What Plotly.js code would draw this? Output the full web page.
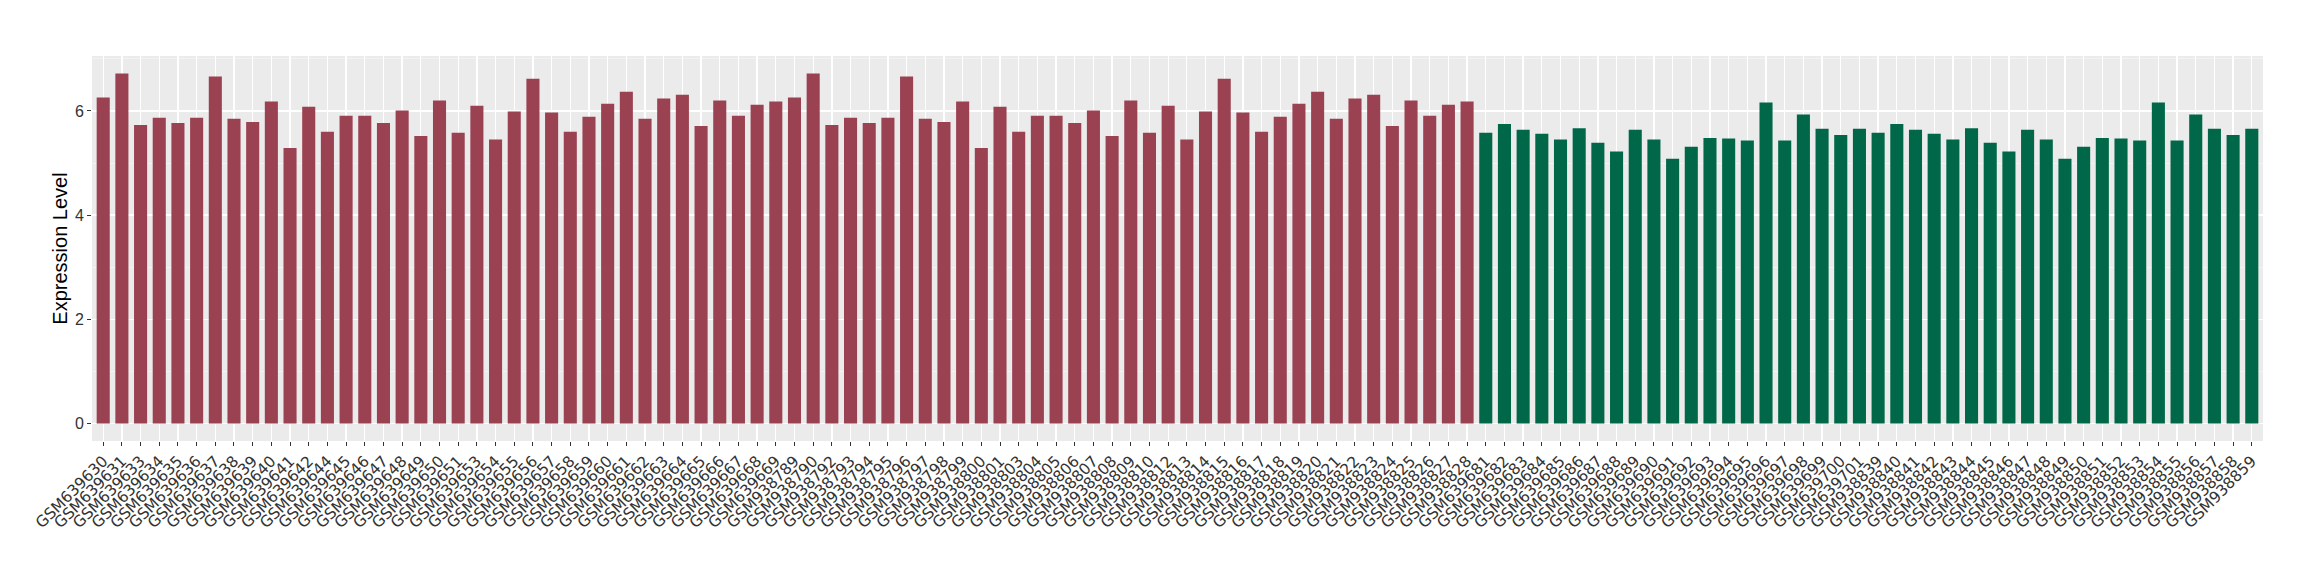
<!DOCTYPE html>
<html>
<head>
<meta charset="utf-8">
<script src="https://cdn.plot.ly/plotly-3.0.1.min.js"></script>
<style>html,body{margin:0;padding:0;background:#fff;}#chart{width:2320px;height:580px;}</style>
</head>
<body>
<div id="chart"></div>
<script>
const redSamples = [
  "GSM639630","GSM639631","GSM639633","GSM639634","GSM639635","GSM639636","GSM639637","GSM639638","GSM639639","GSM639640",
  "GSM639641","GSM639642","GSM639644","GSM639645","GSM639646","GSM639647","GSM639648","GSM639649","GSM639650","GSM639651",
  "GSM639653","GSM639654","GSM639655","GSM639656","GSM639657","GSM639658","GSM639659","GSM639660","GSM639661","GSM639662",
  "GSM639663","GSM639664","GSM639665","GSM639666","GSM639667","GSM639668","GSM639669",
  "GSM938789","GSM938790","GSM938792","GSM938793","GSM938794","GSM938795","GSM938796","GSM938797","GSM938798","GSM938799",
  "GSM938800","GSM938801","GSM938803","GSM938804","GSM938805","GSM938806","GSM938807","GSM938808","GSM938809","GSM938810",
  "GSM938812","GSM938813","GSM938814","GSM938815","GSM938816","GSM938817","GSM938818","GSM938819","GSM938820","GSM938821",
  "GSM938822","GSM938823","GSM938824","GSM938825","GSM938826","GSM938827","GSM938828"
];
const redValues = [
  6.26,6.72,5.73,5.87,5.77,5.87,6.66,5.85,5.79,6.18,
  5.29,6.08,5.60,5.91,5.91,5.77,6.01,5.52,6.20,5.58,
  6.10,5.45,5.99,6.62,5.97,5.60,5.89,6.14,6.37,5.85,
  6.24,6.31,5.71,6.20,5.91,6.12,6.18,
  6.26,6.72,5.73,5.87,5.77,5.87,6.66,5.85,5.79,6.18,
  5.29,6.08,5.60,5.91,5.91,5.77,6.01,5.52,6.20,5.58,
  6.10,5.45,5.99,6.62,5.97,5.60,5.89,6.14,6.37,5.85,
  6.24,6.31,5.71,6.20,5.91,6.12,6.18
];
const greenSamples = [
  "GSM639681","GSM639682","GSM639683","GSM639684","GSM639685","GSM639686","GSM639687","GSM639688","GSM639689","GSM639690",
  "GSM639691","GSM639692","GSM639693","GSM639694","GSM639695","GSM639696","GSM639697","GSM639698","GSM639699","GSM639700",
  "GSM639701",
  "GSM938839","GSM938840","GSM938841","GSM938842","GSM938843","GSM938844","GSM938845","GSM938846","GSM938847","GSM938848",
  "GSM938849","GSM938850","GSM938851","GSM938852","GSM938853","GSM938854","GSM938855","GSM938856","GSM938857","GSM938858",
  "GSM938859"
];
const greenValues = [
  5.58,5.75,5.64,5.56,5.45,5.67,5.39,5.22,5.64,5.45,
  5.08,5.31,5.48,5.47,5.43,6.16,5.43,5.93,5.66,5.54,
  5.66,
  5.58,5.75,5.64,5.56,5.45,5.67,5.39,5.22,5.64,5.45,
  5.08,5.31,5.48,5.47,5.43,6.16,5.43,5.93,5.66,5.54,
  5.66
];
const yTicks = [0, 2, 4, 6];
const yMinor = [1, 3, 5, 7];

const allSamples = redSamples.concat(greenSamples);
const n = allSamples.length;

const traces = [
  {type: "bar", x: redSamples, y: redValues, width: 0.7, marker: {color: "#9B4252"}, showlegend: false, hoverinfo: "x+y"},
  {type: "bar", x: greenSamples, y: greenValues, width: 0.7, marker: {color: "#006848"}, showlegend: false, hoverinfo: "x+y"}
];

const layout = {
  width: 2320, height: 580,
  margin: {l: 92, r: 57, t: 56, b: 139},
  paper_bgcolor: "#ffffff",
  plot_bgcolor: "#EBEBEB",
  barmode: "overlay",
  showlegend: false,
  xaxis: {
    type: "category",
    categoryorder: "array",
    categoryarray: allSamples,
    tickmode: "array",
    tickvals: allSamples,
    ticktext: allSamples,
    range: [-0.6, n - 1 + 0.6],
    showgrid: true, gridcolor: "#ffffff", gridwidth: 1.3,
    zeroline: false, showline: false,
    ticks: "outside", ticklen: 4, tickwidth: 1, tickcolor: "#333333",
    tickangle: -45,
    tickfont: {family: "DejaVu Sans", size: 15.5, color: "#333333"},
    automargin: false
  },
  yaxis: {
    range: [-0.338, 7.055],
    tickvals: yTicks,
    ticktext: yTicks.map(String),
    showgrid: true, gridcolor: "#ffffff", gridwidth: 1.3,
    minor: {tickvals: yMinor, showgrid: true, gridcolor: "#F6F6F6", gridwidth: 0.7, ticks: ""},
    zeroline: false, showline: false,
    ticks: "outside", ticklen: 4, tickwidth: 1, tickcolor: "#333333",
    tickfont: {family: "Liberation Sans, Arial, sans-serif", size: 16, color: "#333333"},
    title: {text: "Expression Level", font: {family: "Liberation Sans, Arial, sans-serif", size: 20, color: "#000000"}, standoff: 1},
    automargin: false
  }
};

Plotly.newPlot("chart", traces, layout, {displayModeBar: false, staticPlot: true});
</script>
</body>
</html>
